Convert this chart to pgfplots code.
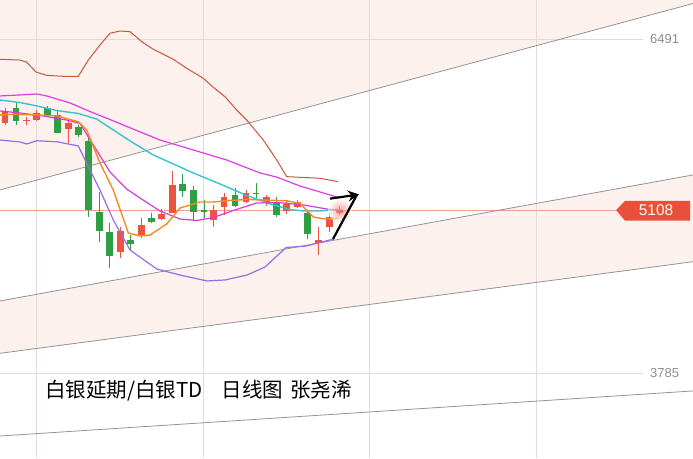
\documentclass[border=0pt]{standalone}
\usepackage{pgfplots}
\pgfplotsset{compat=1.18}
\usepackage{pgfplotstable}
\usepackage{fontspec}
\setmainfont{Liberation Sans}
\newfontfamily\cjk{Noto Sans CJK SC}
\usetikzlibrary{arrows.meta}

\definecolor{cUp}{HTML}{EB5442}
\definecolor{cDown}{HTML}{2EA043}
\definecolor{cBrown}{HTML}{C8553D}
\definecolor{cMag}{HTML}{E03CE6}
\definecolor{cMag2}{HTML}{D83AD8}
\definecolor{cCyan}{HTML}{34C4D4}
\definecolor{cOrange}{HTML}{F28C1E}
\definecolor{cPurple}{HTML}{9B6BE8}
\definecolor{cPeach}{HTML}{FCF1EC}
\definecolor{cGrid}{HTML}{E3DADA}
\definecolor{cLabel}{HTML}{E8503A}

% daily candles: x position, open, high, low, close
\pgfplotstableread{
x     o    h    l    c
5     5815 5934 5797 5904
26.7  5832 5864 5797 5837
36.7  5837 5918 5829 5896
68.3  5764 5829 5648 5813
120.7 4770 4973 4717 4938
141.7 4897 5041 4879 4986
161.7 5033 5116 5027 5073
172.7 5086 5426 5084 5311
213.3 5031 5148 4970 5104
224   5130 5242 5067 5213
246   5171 5274 5162 5246
266.7 5165 5230 5140 5211
286.7 5100 5181 5072 5159
297.3 5130 5189 5124 5170
318.3 4843 4970 4743 4865
329.3 4968 5081 4932 5049
339.3 5084 5140 5067 5108
}\upc

\pgfplotstableread{
x     o    h    l    c
16    5932 5973 5797 5832
47.3  5932 5951 5864 5878
57.3  5878 5918 5728 5734
78.3  5780 5797 5699 5716
88.3  5663 5716 5054 5108
99.3  5094 5256 4851 4940
109.3 4932 5000 4636 4735
130.7 4865 4905 4784 4833
151.7 5047 5081 5000 5013
182.7 5319 5400 5216 5264
193.3 5270 5302 5027 5094
204   5112 5193 5043 5089
235   5230 5284 5132 5140
256   5242 5327 5203 5234
276.7 5171 5216 5051 5065
307.3 5086 5092 4873 4916
}\downc

\begin{document}
\begin{tikzpicture}
\begin{axis}[
    scale only axis,
    width=693pt, height=458pt,
    xmin=0, xmax=693,
    ymin=3098.7, ymax=6809.4,
    axis lines=none, ticks=none,
    clip=true,
    candle/.style={draw=none, mark=none, forget plot,
        error bars/.cd, y dir=plus, y explicit, error mark=none},
]
% shaded channel areas
\fill[cPeach] (axis cs:0,5270) -- (axis cs:693,6781) -- (axis cs:693,6809.4) -- (axis cs:0,6809.4) -- cycle;
\fill[cPeach] (axis cs:0,4371) -- (axis cs:693,5392) -- (axis cs:693,4689) -- (axis cs:0,3947) -- cycle;

% grid
\draw[cGrid, line width=0.8pt] (axis cs:36.7,3098.7) -- (axis cs:36.7,6809.4);
\draw[cGrid, line width=0.8pt] (axis cs:203.3,3098.7) -- (axis cs:203.3,6809.4);
\draw[cGrid, line width=0.8pt] (axis cs:369.5,3098.7) -- (axis cs:369.5,6809.4);
\draw[cGrid, line width=0.8pt] (axis cs:536,3098.7) -- (axis cs:536,6809.4);
\draw[cGrid, line width=0.8pt] (axis cs:0,6491) -- (axis cs:643,6491);
\draw[cGrid, line width=0.8pt] (axis cs:0,3785) -- (axis cs:643,3785);
\draw[cLabel!55, line width=0.8pt] (axis cs:0,5108) -- (axis cs:616,5108);

% channel lines
\addplot[gray!85, line width=0.8pt] coordinates {(0,5270) (693,6781)};
\addplot[gray!85, line width=0.8pt] coordinates {(0,4371) (693,5392)};
\addplot[gray!85, line width=0.8pt] coordinates {(0,3947) (693,4689)};
\addplot[gray!85, line width=0.8pt] coordinates {(0,3277) (693,3642)};

% candles: wicks
\addplot[candle, error bar style={draw=cUp, line width=1pt}]
    table[x=x, y=l, y error expr=\thisrow{h}-\thisrow{l}] {\upc};
\addplot[candle, error bar style={draw=cDown, line width=1pt}]
    table[x=x, y=l, y error expr=\thisrow{h}-\thisrow{l}] {\downc};
% candles: bodies
\addplot[candle, error bar style={draw=cUp, line width=6.8pt}]
    table[x=x, y=o, y error expr=\thisrow{c}-\thisrow{o}] {\upc};
\addplot[candle, error bar style={draw=cDown, line width=6.8pt}]
    table[x=x, y=c, y error expr=\thisrow{o}-\thisrow{c}] {\downc};

% upper band
\addplot[cBrown, line width=1pt] coordinates {
 (0,6329) (20,6323) (26.7,6305) (36,6226) (46.7,6199) (63.3,6191) (78.3,6191)
 (88.3,6323) (100,6445) (110,6540) (120,6558) (130,6553) (141.7,6472)
 (153.3,6410) (173.3,6329) (186.7,6256) (203.3,6175) (213.3,6102) (225,6026)
 (236.7,5918) (246.7,5837) (263.3,5675) (276.7,5513) (286.7,5378) (300,5373)
 (320,5365) (338.3,5337)
};
% magenta upper
\addplot[cMag, line width=1.2pt] coordinates {
 (0,6032) (20,6040) (36.7,6048) (46.7,6032) (70,5975) (90,5906) (110,5841)
 (133,5764) (160,5675) (186.7,5610) (226.7,5513) (260,5408) (276.7,5375)
 (300,5302) (320,5254) (340,5205)
};
% cyan
\addplot[cCyan, line width=1.4pt] coordinates {
 (0,5999) (20,5979) (36.7,5951) (56.7,5914) (78.3,5890) (96.7,5845) (113.3,5756)
 (133.3,5651) (153.3,5554) (173.3,5481) (193.3,5408) (220,5319) (246.7,5226)
 (270,5157) (290,5112) (303.3,5100) (320,5100) (338,5112)
};
% magenta lower
\addplot[cMag2, line width=1.2pt] coordinates {
 (0,5910) (20,5894) (43,5870) (66.7,5837) (80,5809) (93.3,5635) (110,5416)
 (126.7,5278) (140,5205) (160,5100) (180,5035) (196.7,5023) (213.3,5047)
 (233.3,5104) (256.7,5165) (280,5167) (303.3,5149) (326.7,5116) (338,5108)
};
% orange
\addplot[cOrange, line width=1.4pt] coordinates {
 (0,5878) (13.3,5883) (36.7,5878) (56.7,5870) (78.3,5823) (86.7,5756) (100,5489)
 (113.3,5270) (128.3,4922) (140,4897) (150,4905) (166.7,4995) (180,5124)
 (200,5173) (213.3,5173) (230,5185) (246.7,5193) (263.3,5189) (286.7,5183)
 (300,5161) (313.3,5051) (326.7,5033) (338,5041)
};
% lower band
\addplot[cPurple, line width=1.2pt] coordinates {
 (0,5675) (20,5659) (26.7,5643) (36.7,5669) (56.7,5661) (78.3,5627) (90,5432)
 (100,5270) (113.3,5027) (130,4784) (156.7,4630) (180,4581) (207,4533)
 (225,4541) (247,4581) (265,4646) (286,4804) (306,4816) (318,4841) (334,4873)
};

% glow at the last price
\shade[inner color=cUp!85, outer color=white, opacity=0.6] (axis cs:340,5104) circle (12pt);

% arrow
\draw[black, line width=2.2pt] (axis cs:333,4873) -- (axis cs:357,5232);
\draw[black, line width=2.2pt, -{Stealth[length=11pt,width=11pt]}] (axis cs:330,5200) -- (axis cs:359,5234);

% price labels
\node[anchor=west, text=gray!90, font=\fontsize{13pt}{13pt}\selectfont, inner sep=0pt] at (axis cs:650,6491) {6491};
\node[anchor=west, text=gray!90, font=\fontsize{13pt}{13pt}\selectfont, inner sep=0pt] at (axis cs:650,3785) {3785};
\fill[cLabel] (axis cs:616,5108) -- (axis cs:625,5181) -- (axis cs:690,5181) -- (axis cs:690,5021) -- (axis cs:625,5021) -- cycle;
\node[text=white, font=\fontsize{15.5pt}{15.5pt}\selectfont, inner sep=0pt] at (axis cs:656,5106) {5108};

% title
\node[anchor=west, inner sep=0pt, font=\cjk\fontsize{20.5pt}{20.5pt}\selectfont] at (axis cs:45,3641)
  {白银延期/白银TD\hspace{19pt}日线图\hspace{7pt}张尧浠};
\end{axis}
\pgfresetboundingbox
\useasboundingbox (0,0) rectangle (693pt,458pt);
\end{tikzpicture}
\end{document}
